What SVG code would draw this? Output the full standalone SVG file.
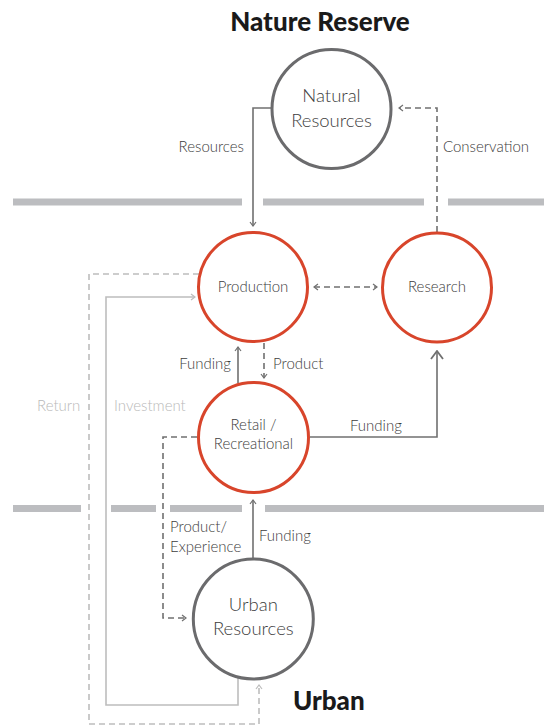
<svg xmlns="http://www.w3.org/2000/svg" width="544" height="726" viewBox="0 0 544 726">
<style>
text{font-family:"Lato","Open Sans","Liberation Sans",sans-serif;fill:#3d3d3d;font-weight:300}
.title{font-weight:900;fill:#1a1a1a;font-size:26px}
.lbl{font-size:15px}
.lt{fill:#b9b9b9}
.big{font-size:18.5px}
.bar{fill:#bcbdc0}
.red{fill:#fff;stroke:#d8452b;stroke-width:3}
.gray{fill:#fff;stroke:#6b6b6d;stroke-width:3}
.c{fill:none;stroke:#707070;stroke-width:1.6}
.d{stroke-dasharray:6,4}
.l{fill:none;stroke:#bdbdbd;stroke-width:1.6}
</style>
<defs>
<marker id="a" viewBox="0 0 8 8" refX="7" refY="4" markerWidth="8" markerHeight="8" markerUnits="userSpaceOnUse" orient="auto-start-reverse"><path d="M3,1 L7,4 L3,7" fill="none" stroke="#707070" stroke-width="1.2"/></marker>
<marker id="al" viewBox="0 0 8 8" refX="7" refY="4" markerWidth="8" markerHeight="8" markerUnits="userSpaceOnUse" orient="auto"><path d="M3,1 L7,4 L3,7" fill="none" stroke="#bdbdbd" stroke-width="1.2"/></marker>
<marker id="ab" viewBox="0 0 10 14" refX="9" refY="7" markerWidth="10" markerHeight="14" markerUnits="userSpaceOnUse" orient="auto"><path d="M1,1 L9,7 L1,13" fill="none" stroke="#707070" stroke-width="1.8"/></marker>
</defs>
<g id="bars">
<rect class="bar" x="13" y="198.5" width="229" height="7"/>
<rect class="bar" x="263" y="198.5" width="161" height="7"/>
<rect class="bar" x="448" y="198.5" width="96" height="7"/>
<rect class="bar" x="13" y="505" width="68" height="7"/>
<rect class="bar" x="111" y="505" width="45" height="7"/>
<rect class="bar" x="170" y="505" width="72" height="7"/>
<rect class="bar" x="265" y="505" width="279" height="7"/>
</g>
<g id="connectors">
<path class="l" d="M238,678 V705 H106 V297 H195" marker-end="url(#al)"/>
<path class="l d" d="M199,274 H89 V724 H259 V685" marker-end="url(#al)"/>
<path class="c" d="M271,108 H253 V226" marker-end="url(#a)"/>
<path class="c d" d="M437,232 V108 H399" marker-end="url(#a)"/>
<path class="c d" d="M314,287 H377" marker-start="url(#a)" marker-end="url(#a)"/>
<path class="c" d="M238,383 V347" marker-end="url(#a)"/>
<path class="c d" d="M264,343 V378" marker-end="url(#a)"/>
<path class="c" d="M310,437 H437 V351" marker-end="url(#ab)"/>
<path class="c d" d="M197,437 H163 V618 H186" marker-end="url(#a)"/>
<path class="c" d="M253,558 V500" marker-end="url(#a)"/>
</g>
<g id="labels">
<text class="title" x="320" y="31" text-anchor="middle">Nature Reserve</text>
<text class="title" x="293" y="710">Urban</text>
<text class="lbl" x="244" y="152" text-anchor="end">Resources</text>
<text class="lbl" x="443" y="152">Conservation</text>
<text class="lbl" x="231" y="369" text-anchor="end">Funding</text>
<text class="lbl" x="273" y="369">Product</text>
<text class="lbl lt" x="37" y="411">Return</text>
<text class="lbl lt" x="114" y="411">Investment</text>
<text class="lbl" x="350" y="431">Funding</text>
<text class="lbl" x="170" y="532">Product/</text>
<text class="lbl" x="170" y="552">Experience</text>
<text class="lbl" x="259" y="541">Funding</text>
</g>
<g id="natural-resources">
<circle class="gray" cx="331.5" cy="109" r="59.5"/>
<text class="big" x="331.5" y="102" text-anchor="middle">Natural</text>
<text class="big" x="331.5" y="127" text-anchor="middle">Resources</text>
</g>
<g id="production">
<circle class="red" cx="253" cy="287" r="54.5"/>
<text class="lbl" x="253" y="292" text-anchor="middle">Production</text>
</g>
<g id="research">
<circle class="red" cx="437" cy="287.5" r="54.5"/>
<text class="lbl" x="437" y="292" text-anchor="middle">Research</text>
</g>
<g id="retail">
<circle class="red" cx="253.5" cy="437.5" r="55"/>
<text class="lbl" x="253.5" y="430" text-anchor="middle">Retail /</text>
<text class="lbl" x="253.5" y="449" text-anchor="middle">Recreational</text>
</g>
<g id="urban-resources">
<circle class="gray" cx="253.3" cy="619" r="60"/>
<text class="big" x="253.3" y="611" text-anchor="middle">Urban</text>
<text class="big" x="253.3" y="635" text-anchor="middle">Resources</text>
</g>
</svg>
